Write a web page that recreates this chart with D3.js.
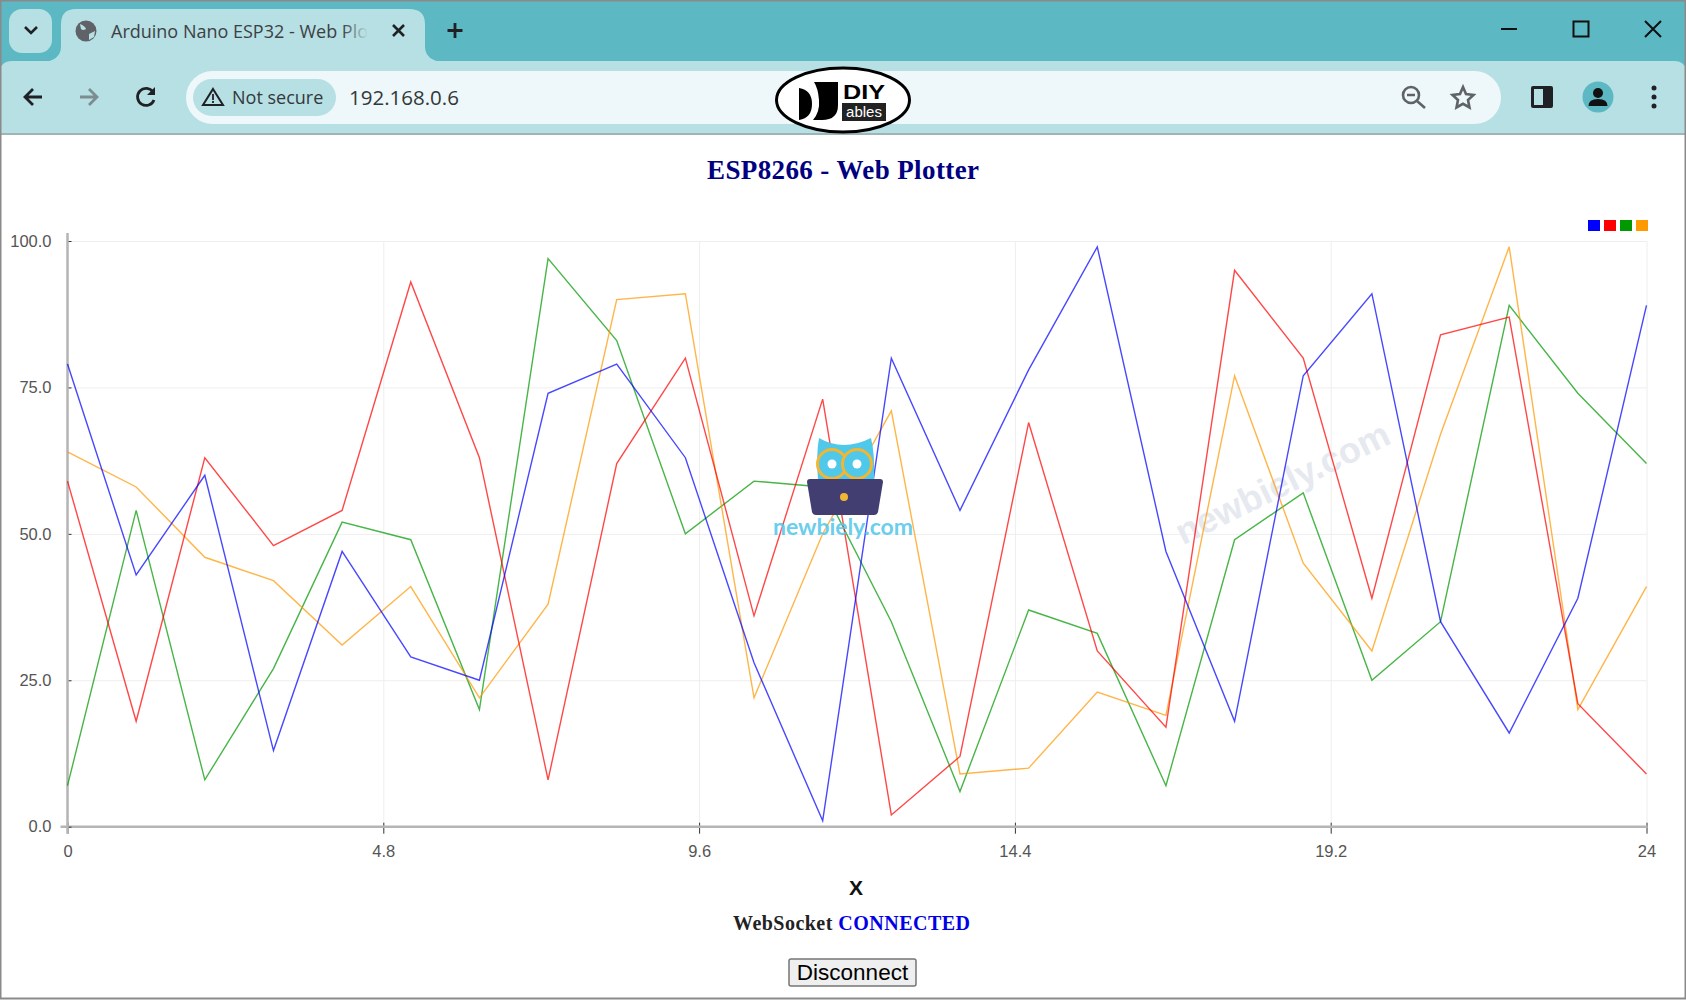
<!DOCTYPE html>
<html>
<head>
<meta charset="utf-8">
<title>ESP8266 - Web Plotter</title>
<script src="https://cdn.jsdelivr.net/npm/d3@7"></script>
<style>
  html, body { margin: 0; padding: 0; background: #fff; overflow: hidden; }
  svg { display: block; }
  .sans { font-family: "Liberation Sans", Arial, sans-serif; }
  .ui { font-family: "Open Sans", "Noto Sans", sans-serif; }
  .serif { font-family: "Liberation Serif", "Times New Roman", serif; }
  .tick text { font-family: "Liberation Sans", Arial, sans-serif; font-size: 16.5px; fill: #555; }
</style>
</head>
<body>
<script>
// Chart data
var blueValues = [79, 43, 60, 13, 47, 29, 25, 74, 79, 63, 28, 1, 80, 54, 78, 99, 47, 18, 77, 91, 35, 16, 39, 89];
var redValues = [59, 18, 63, 48, 54, 93, 63, 8, 62, 80, 36, 73, 2, 12, 69, 30, 17, 95, 80, 39, 84, 87, 21, 9];
var greenValues = [7, 54, 8, 27, 52, 49, 20, 97, 83, 50, 59, 58, 35, 6, 37, 33, 7, 49, 57, 25, 35, 89, 74, 62];
var orangeValues = [64, 58, 46, 42, 31, 41, 22, 38, 90, 91, 22, 50, 71, 9, 10, 23, 19, 77, 45, 30, 67, 99, 20, 41];
var seriesColors = ["#0000ff", "#ff0000", "#009900", "#ff9900"];
var xTickValues = [0, 4.8, 9.6, 14.4, 19.2, 24];
var yTickValues = [0, 25, 50, 75, 100];

var width = 1686, height = 1001;
var plot = { left: 67.5, right: 1646.5, top: 241, bottom: 826.7 };

var svg = d3.select("body").append("svg").attr("width", width).attr("height", height);

function drawChrome() {
  var ink = "#202124";
  var g = svg.append("g");
  g.append("rect").attr("width", width).attr("height", 66).attr("fill", "#5cb8c2");
  g.append("path").attr("d", "M0 134V73Q0 61 12 61H1674Q1686 61 1686 73V134Z").attr("fill", "#b7e0e5");
  g.append("rect").attr("y", 133).attr("width", width).attr("height", 2).attr("fill", "#9fb4b8");
  // tab strip
  g.append("rect").attr("x", 9).attr("y", 9).attr("width", 43).attr("height", 44).attr("rx", 13).attr("fill", "#b7e0e5");
  g.append("path").attr("d", "M25 27l6 6l6 -6").attr("fill", "none").attr("stroke", ink).attr("stroke-width", 2.6);
  g.append("path").attr("d", "M42 62Q61 61 61 46V24Q61 9 76 9H409Q425 9 425 24V46Q425 61 444 62Z").attr("fill", "#b7e0e5");
  g.append("circle").attr("cx", 86).attr("cy", 31).attr("r", 10.5).attr("fill", "#5f6368");
  g.append("path").attr("d", "M80 24q5 2 6 5q-3 2 -5 0zM89 34l6 -3l-1 6l-5 3z").attr("fill", "#b7e0e5");
  var gradient = svg.append("defs").append("linearGradient").attr("id", "tabFade");
  gradient.append("stop").attr("offset", "0.9").attr("stop-color", "#3c4043");
  gradient.append("stop").attr("offset", "1").attr("stop-color", "#b7e0e5");
  g.append("text").attr("class", "ui").attr("x", 111).attr("y", 38).attr("font-size", 18)
    .attr("fill", "url(#tabFade)").text("Arduino Nano ESP32 - Web Plo");
  g.append("path").attr("d", "M393 25l11 11M404 25l-11 11").attr("stroke", ink).attr("stroke-width", 2.6);
  g.append("path").attr("d", "M455 23v15M447.500 30.500h15").attr("stroke", ink).attr("stroke-width", 2.8);
  // window buttons
  g.append("path").attr("d", "M1501 29h16").attr("stroke", "#111").attr("stroke-width", 2);
  g.append("rect").attr("x", 1573.500).attr("y", 21.500).attr("width", 15).attr("height", 15).attr("fill", "none").attr("stroke", "#111").attr("stroke-width", 2);
  g.append("path").attr("d", "M1645 21l16 16M1661 21l-16 16").attr("stroke", "#111").attr("stroke-width", 2);
  // toolbar
  g.append("path").attr("d", "M42 97H26M33 89l-8 8l8 8").attr("fill", "none").attr("stroke", ink).attr("stroke-width", 2.8);
  g.append("path").attr("d", "M80 97H96M89 89l8 8l-8 8").attr("fill", "none").attr("stroke", "#7d8c90").attr("stroke-width", 2.8);
  g.append("path").attr("d", "M153 92a8.500 8.500 0 1 0 1 8").attr("fill", "none").attr("stroke", ink).attr("stroke-width", 2.8);
  g.append("path").attr("d", "M155 87v8h-8z").attr("fill", ink);
  g.append("rect").attr("x", 186).attr("y", 71).attr("width", 1315).attr("height", 53).attr("rx", 26.500).attr("fill", "#eef7f9");
  g.append("rect").attr("x", 193).attr("y", 79).attr("width", 143).attr("height", 37).attr("rx", 18.500).attr("fill", "#b7e0e5");
  g.append("path").attr("d", "M213 89l10 16h-20z").attr("fill", "none").attr("stroke", ink).attr("stroke-width", 2);
  g.append("path").attr("d", "M213 94v6M213 101v2").attr("stroke", ink).attr("stroke-width", 1.8);
  g.append("text").attr("class", "ui").attr("x", 232).attr("y", 104).attr("font-size", 18).attr("fill", "#33383b").text("Not secure");
  g.append("text").attr("class", "ui").attr("x", 349).attr("y", 105).attr("font-size", 20.500).attr("fill", "#33383b").text("192.168.0.6");
  // right side icons
  g.append("circle").attr("cx", 1411).attr("cy", 95).attr("r", 8).attr("fill", "none").attr("stroke", "#5f6368").attr("stroke-width", 2.6);
  g.append("path").attr("d", "M1407 95h8M1417 101l8 7").attr("stroke", "#5f6368").attr("stroke-width", 2.6);
  g.append("path").attr("d", "M1463 87l3 7l7.500 1l-5.500 5l1.500 7.500l-6.500 -3.700l-6.500 3.700l1.500 -7.500l-5.500 -5l7.500 -1z")
    .attr("fill", "none").attr("stroke", "#5f6368").attr("stroke-width", 2.6);
  g.append("rect").attr("x", 1531).attr("y", 86).attr("width", 22).attr("height", 22).attr("rx", 2).attr("fill", "#202124");
  g.append("rect").attr("x", 1534).attr("y", 89).attr("width", 9).attr("height", 16).attr("fill", "#b7e0e5");
  g.append("circle").attr("cx", 1598).attr("cy", 97).attr("r", 15.500).attr("fill", "#5cb8c2");
  g.append("circle").attr("cx", 1598).attr("cy", 93).attr("r", 5).attr("fill", "#111");
  g.append("path").attr("d", "M1588.500 106q0 -7 9.500 -7q9.500 0 9.500 7z").attr("fill", "#111");
  [88, 97, 106].forEach(function(cy) {
    g.append("circle").attr("cx", 1654).attr("cy", cy).attr("r", 2.500).attr("fill", "#202124");
  });
  // DIYables logo
  g.append("ellipse").attr("cx", 843).attr("cy", 100).attr("rx", 66.500).attr("ry", 32).attr("fill", "#fff").attr("stroke", "#000").attr("stroke-width", 3);
  g.append("path").attr("d", "M799 88Q812 90 812 104Q812 118 799 120ZM814 82H838V105Q838 120 822 120H813Q820 112 819 100Q818 88 814 82Z").attr("fill", "#000");
  g.append("text").attr("class", "sans").attr("x", 843).attr("y", 98.500).attr("font-size", 21).attr("font-weight", "bold")
    .attr("textLength", 42).attr("lengthAdjust", "spacingAndGlyphs").text("DIY");
  g.append("rect").attr("x", 842).attr("y", 103).attr("width", 44).attr("height", 18).attr("fill", "#222");
  g.append("text").attr("class", "sans").attr("x", 864).attr("y", 117).attr("font-size", 15).attr("text-anchor", "middle").attr("fill", "#fff").text("ables");
  // frame of the screenshot
  g.append("rect").attr("x", 0.500).attr("y", 0.500).attr("width", width - 1).attr("height", 998).attr("fill", "none").attr("stroke", "#8a8a8a").attr("stroke-width", 2);
}

function drawHeader() {
  svg.append("text").attr("class", "serif").attr("x", 843).attr("y", 179)
    .attr("text-anchor", "middle").attr("font-size", 27).attr("font-weight", "bold")
    .attr("fill", "#000080").attr("textLength", 272).text("ESP8266 - Web Plotter");
}

function drawWatermark() {
  svg.append("text").attr("class", "sans")
    .attr("transform", "translate(1288,494) rotate(-26)")
    .attr("text-anchor", "middle").attr("font-size", 36).attr("font-weight", "bold")
    .attr("fill", "#e6e9ef").text("newbiely.com");
}

function drawChart() {
  var x = d3.scaleLinear().domain([0, 24]).range([plot.left, plot.right]);
  var xIndex = d3.scalePoint().domain(d3.range(blueValues.length)).range([plot.left, plot.right]);
  var y = d3.scaleLinear().domain([0, 100]).range([plot.bottom, plot.top]);
  var plotW = plot.right - plot.left, plotH = plot.bottom - plot.top;

  // Grid lines first, they sit below everything
  var gridX = svg.append("g").attr("transform", "translate(0," + plot.bottom + ")")
    .call(d3.axisBottom(x).tickValues(xTickValues).tickSize(-plotH).tickFormat(""));
  var gridY = svg.append("g").attr("transform", "translate(" + plot.left + ",0)")
    .call(d3.axisLeft(y).tickValues(yTickValues).tickSize(-plotW).tickFormat(""));
  [gridX, gridY].forEach(function(grid) {
    grid.select(".domain").remove();
    grid.selectAll("line").attr("stroke", "#eeeeee").attr("stroke-width", 1);
  });

  drawWatermark();

  var xAxis = svg.append("g").attr("transform", "translate(0," + plot.bottom + ")")
    .call(d3.axisBottom(x).tickValues(xTickValues).tickSize(7).tickPadding(12).tickFormat(function(d) { return d; }));
  var yAxis = svg.append("g").attr("transform", "translate(" + plot.left + ",0)")
    .call(d3.axisLeft(y).tickValues(yTickValues).tickSize(7).tickPadding(9).tickFormat(d3.format(".1f")));
  xAxis.selectAll(".tick line").attr("stroke", "#333").attr("y1", -4);
  yAxis.selectAll(".tick line").attr("stroke", "#333").attr("x2", 4);
  xAxis.select(".domain").remove();
  yAxis.select(".domain").remove();
  xAxis.append("path").attr("d", d3.line()([[plot.left - 7, 0], [plot.right + 1, 0]])).attr("stroke", "#b5b5b5").attr("stroke-width", 2.5);
  yAxis.append("path").attr("d", d3.line()([[0, plot.top - 8], [0, plot.bottom + 7]])).attr("stroke", "#b5b5b5").attr("stroke-width", 2.5);

  var line = d3.line()
    .x(function(d, i) { return xIndex(i); })
    .y(function(d) { return y(d); });
  svg.selectAll(".series")
    .data([greenValues, orangeValues, redValues, blueValues])
    .enter().append("path")
    .attr("class", "series")
    .attr("d", line)
    .attr("fill", "none")
    .attr("stroke-width", 1.4)
    .attr("stroke-opacity", 0.72)
    .attr("stroke", function(d, i) { return [seriesColors[2], seriesColors[3], seriesColors[1], seriesColors[0]][i]; });

  // legend squares in the top right corner
  var legend = d3.scaleBand().domain(seriesColors).range([1588, 1648]).paddingInner(0.25);
  svg.selectAll(".legend").data(seriesColors).enter().append("rect")
    .attr("class", "legend")
    .attr("x", function(d) { return legend(d); })
    .attr("y", 220)
    .attr("width", legend.bandwidth())
    .attr("height", 11)
    .attr("fill", function(d) { return d; });
}

function drawOwl() {
  var g = svg.append("g");
  g.append("path").attr("d", "M819 438q12 7 25 7t27 -7q4 16 3 42h-56q-2 -26 1 -42z").attr("fill", "#4fc8ea");
  [832, 857].forEach(function(cx) {
    g.append("circle").attr("cx", cx).attr("cy", 464).attr("r", 14.500).attr("fill", "#4fc8ea").attr("stroke", "#f2b632").attr("stroke-width", 3);
    g.append("circle").attr("cx", cx).attr("cy", 464).attr("r", 4.500).attr("fill", "#fff");
  });
  g.append("path").attr("d", "M807 482q0 -3 3 -3h70q3 0 3 3l-5 30q-1 3 -4 3h-58q-3 0 -4 -3z").attr("fill", "#423e72");
  g.append("circle").attr("cx", 844).attr("cy", 497).attr("r", 4).attr("fill", "#f2b632");
  g.append("text").attr("x", 843).attr("y", 535).attr("text-anchor", "middle")
    .style("font-family", "Lato, sans-serif")
    .attr("font-size", 23).attr("font-weight", "bold").attr("fill", "#55c8ea").attr("fill-opacity", 0.9)
    .attr("textLength", 140).text("newbiely.com");
}

function drawFooter() {
  svg.append("text").attr("class", "sans").attr("x", 856).attr("y", 895).attr("text-anchor", "middle")
    .attr("font-size", 21).attr("font-weight", "bold").attr("fill", "#111").text("X");
  var status = svg.append("text").attr("class", "serif").attr("x", 733).attr("y", 930)
    .attr("font-size", 20).attr("font-weight", "bold").attr("textLength", 237);
  status.append("tspan").attr("fill", "#222").text("WebSocket ");
  status.append("tspan").attr("fill", "#0000e6").text("CONNECTED");
  svg.append("rect").attr("x", 789).attr("y", 959).attr("width", 127).attr("height", 27).attr("rx", 2)
    .attr("fill", "#efefef").attr("stroke", "#767676").attr("stroke-width", 1.5);
  svg.append("text").attr("class", "sans").attr("x", 852.500).attr("y", 980).attr("text-anchor", "middle")
    .attr("font-size", 22.500).attr("fill", "#000").text("Disconnect");
}

drawChrome();
drawHeader();
drawChart();
drawOwl();
drawFooter();
</script>
</body>
</html>
